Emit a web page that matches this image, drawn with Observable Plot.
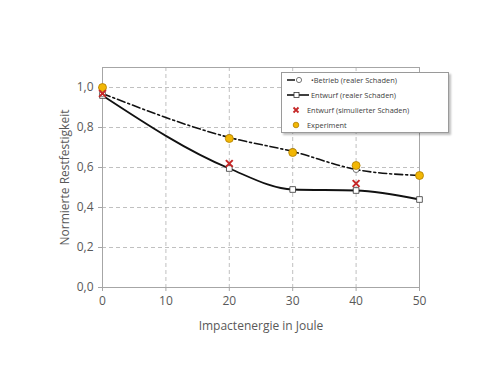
<!DOCTYPE html>
<html>
<head>
<meta charset="utf-8">
<script src="https://cdn.jsdelivr.net/npm/d3@7"></script>
<script src="https://cdn.jsdelivr.net/npm/@observablehq/plot@0.6"></script>
<style>
  body { margin: 0; background: #fff; }
  #wrap { position: relative; width: 500px; height: 375px; font-family: "Open Sans", "Noto Sans", sans-serif; }
  #legend { position: absolute; left: 281px; top: 72px; width: 166px; height: 59px; background: #fff;
    border: 1px solid #9a9a9a; box-shadow: 2px 2px 2px rgba(0,0,0,0.25); font-size: 7.4px; color: #404040; }
  .row { position: absolute; left: 0; height: 14px; display: flex; align-items: center; }
  .row svg { display: block; }
  .row span { margin-left: 1px; white-space: nowrap; }
</style>
</head>
<body>
<div id="wrap">
  <div id="chart"></div>
  <div id="legend"></div>
</div>
<script>
const energy = [0, 20, 30, 40, 50];
const betrieb = [0.97, 0.75, 0.68, 0.59, 0.56];
const entwurf = [0.96, 0.595, 0.49, 0.485, 0.44];
const simEnergy = [0, 20, 40];
const simuliert = [0.97, 0.62, 0.52];
const experiment = [1.0, 0.745, 0.675, 0.61, 0.56];
const xTicks = [0, 10, 20, 30, 40, 50];
const yTicks = [0, 0.2, 0.4, 0.6, 0.8, 1.0];
const legendLabels = ["•Betrieb (realer Schaden)", "Entwurf (realer Schaden)", "Entwurf (simulierter Schaden)", "Experiment"];

const betriebData = energy.map((e, i) => ({x: e, y: betrieb[i]}));
const entwurfData = energy.map((e, i) => ({x: e, y: entwurf[i]}));
const simData = simEnergy.map((e, i) => ({x: e, y: simuliert[i]}));
const expData = energy.map((e, i) => ({x: e, y: experiment[i]}));

const fmt = d => d3.format(".1f")(d).replace(".", ",");
const gold = "#f2b705", goldStroke = "#b07d00", red = "#c62828";

const chart = Plot.plot({
  width: 500, height: 375,
  marginLeft: 102, marginRight: 81, marginTop: 67, marginBottom: 88,
  style: {fontFamily: "'Open Sans', 'Noto Sans', sans-serif", fontSize: "12px", color: "#595959", background: "#fff"},
  x: {domain: [0, 50], ticks: xTicks, label: null, tickSize: 4, tickPadding: 4},
  y: {domain: [0, 1.1], ticks: yTicks, label: null, tickFormat: fmt, tickSize: 4, tickPadding: 4},
  marks: [
    Plot.gridX(xTicks, {stroke: "#b0b0b0", strokeOpacity: 1, strokeDasharray: "4,3", strokeWidth: 0.8}),
    Plot.gridY(yTicks.filter(d => d > 0), {stroke: "#b0b0b0", strokeOpacity: 1, strokeDasharray: "4,3", strokeWidth: 0.8}),
    Plot.frame({stroke: "#a6a6a6", strokeWidth: 1}),
    Plot.axisX({ticks: xTicks, stroke: "#a6a6a6", color: "#595959", tickSize: 4, fontSize: 12, label: null}),
    Plot.axisY({ticks: yTicks, tickFormat: fmt, stroke: "#a6a6a6", color: "#595959", tickSize: 4, fontSize: 12, label: null}),
    Plot.text(["Impactenergie in Joule"], {frameAnchor: "bottom", dy: 42, fontSize: 12, fill: "#595959"}),
    Plot.text(["Normierte Restfestigkeit"], {frameAnchor: "left", textAnchor: "middle", dx: -37, rotate: -90, fontSize: 12, fill: "#595959"}),
    Plot.line(betriebData, {x: "x", y: "y", curve: "monotone-x", stroke: "#111", strokeWidth: 1.6, strokeDasharray: "8,3,2,3"}),
    Plot.line(entwurfData, {x: "x", y: "y", curve: "monotone-x", stroke: "#111", strokeWidth: 1.8}),
    Plot.dot(entwurfData, {x: "x", y: "y", symbol: "square", r: 3.2, fill: "#fff", stroke: "#333", strokeWidth: 0.8}),
    Plot.dot(betriebData, {x: "x", y: "y", symbol: "circle", r: 3, fill: "#fff", stroke: "#555", strokeWidth: 0.8}),
    Plot.dot(expData, {x: "x", y: "y", r: 4, fill: gold, stroke: goldStroke, strokeWidth: 0.8}),
    Plot.dot(simData, {x: "x", y: "y", symbol: "times", r: 3.2, stroke: red, strokeWidth: 2})
  ]
});
document.getElementById("chart").appendChild(chart);

// Legend
const leg = document.getElementById("legend");
const samples = [
  `<svg width="28" height="12"><line x1="5" x2="21" y1="6" y2="6" stroke="#111" stroke-width="1.6" stroke-dasharray="8,3,2,3"/><circle cx="17" cy="6" r="2.6" fill="#fff" stroke="#555" stroke-width="0.8"/></svg>`,
  `<svg width="28" height="12"><line x1="5" x2="27" y1="6" y2="6" stroke="#111" stroke-width="1.6"/><rect x="12" y="3.5" width="5" height="5" fill="#fff" stroke="#333" stroke-width="0.8"/></svg>`,
  `<svg width="24" height="12"><path d="M11.5,3.5 L16.5,8.5 M16.5,3.5 L11.5,8.5" stroke="${red}" stroke-width="1.8"/></svg>`,
  `<svg width="24" height="12"><circle cx="14" cy="6" r="2.8" fill="${gold}" stroke="${goldStroke}" stroke-width="0.8"/></svg>`
];
legendLabels.forEach((lab, i) => {
  const row = document.createElement("div");
  row.className = "row";
  row.style.top = (0 + i * 15) + "px";
  row.innerHTML = samples[i] + `<span>${lab}</span>`;
  leg.appendChild(row);
});
</script>
</body>
</html>
